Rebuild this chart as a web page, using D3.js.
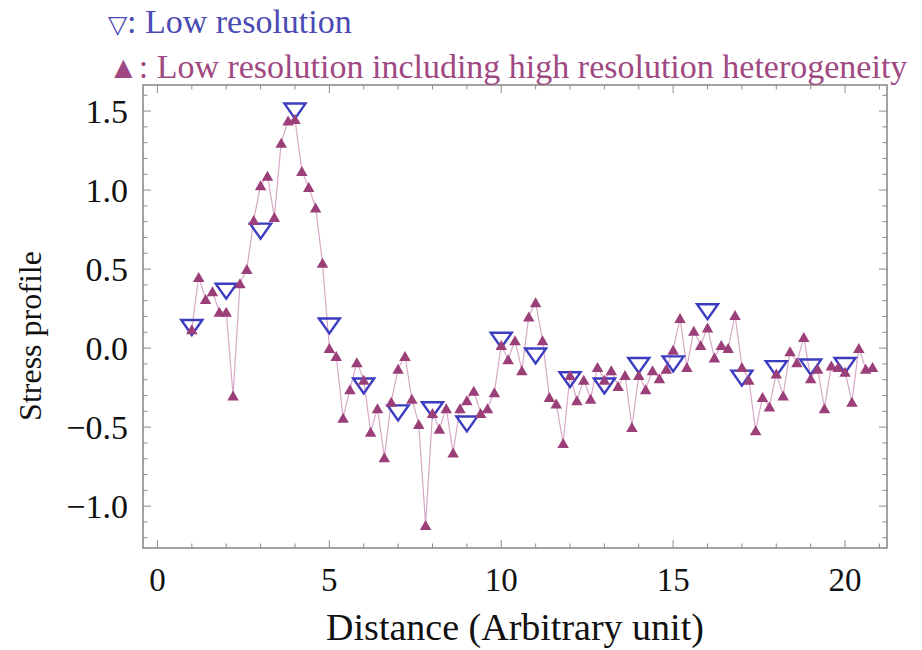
<!DOCTYPE html>
<html><head><meta charset="utf-8">
<script src="https://cdn.jsdelivr.net/npm/d3@7"></script>
<style>
html,body{margin:0;padding:0;background:#fff;}
svg text{font-family:"Liberation Serif","Times New Roman",serif;}
</style></head>
<body><svg id="c" width="922" height="650"></svg>
<script>
// Low resolution series (x = 1..20)
const lowX = [1,2,3,4,5,6,7,8,9,10,11,12,13,14,15,16,17,18,19,20];
const lowY = [0.13,0.36,0.74,1.50,0.14,-0.24,-0.41,-0.39,-0.48,0.05,-0.05,-0.20,-0.24,-0.11,-0.10,0.23,-0.19,-0.13,-0.12,-0.11];
// Low resolution including high resolution heterogeneity
const highX = [1.0,1.2,1.4,1.6,1.8,2.0,2.2,2.4,2.6,2.8,3.0,3.2,3.4,3.6,3.8,4.0,4.2,4.4,4.6,4.8,
  5.0,5.2,5.4,5.6,5.8,6.0,6.2,6.4,6.6,6.8,7.0,7.2,7.4,7.6,7.8,8.0,8.2,8.4,8.6,8.8,
  9.0,9.2,9.4,9.6,9.8,10.0,10.2,10.4,10.6,10.8,11.0,11.2,11.4,11.6,11.8,12.0,12.2,12.4,12.6,12.8,
  13.0,13.2,13.4,13.6,13.8,14.0,14.2,14.4,14.6,14.8,15.0,15.2,15.4,15.6,15.8,16.0,16.2,16.4,16.6,16.8,
  17.0,17.2,17.4,17.6,17.8,18.0,18.2,18.4,18.6,18.8,19.0,19.2,19.4,19.6,19.8,20.0,20.2,20.4,20.6,20.8];
const highY = [0.12,0.45,0.31,0.36,0.23,0.23,-0.30,0.41,0.50,0.81,1.03,1.09,0.83,1.30,1.44,1.45,1.12,1.02,0.89,0.54,
  0.00,-0.05,-0.44,-0.26,-0.09,-0.20,-0.53,-0.38,-0.69,-0.34,-0.13,-0.05,-0.32,-0.48,-1.12,-0.41,-0.51,-0.38,-0.66,-0.38,
  -0.33,-0.27,-0.41,-0.38,-0.28,0.02,-0.07,0.05,-0.14,0.20,0.29,0.05,-0.31,-0.35,-0.60,-0.17,-0.33,-0.20,-0.32,-0.12,
  -0.20,-0.14,-0.24,-0.17,-0.50,-0.17,-0.26,-0.14,-0.19,-0.13,-0.01,0.19,-0.12,0.11,0.02,0.13,-0.06,0.02,0.00,0.21,
  -0.12,-0.20,-0.52,-0.31,-0.37,-0.16,-0.30,-0.02,-0.09,0.07,-0.19,-0.13,-0.38,-0.11,-0.12,-0.15,-0.34,0.00,-0.13,-0.12];
const xTickLabels = [0,5,10,15,20];
const yTickLabels = [-1.0,-0.5,0.0,0.5,1.0,1.5];
const legendSymbols = ["\u25BD","\u25B2"];
const legendLabels = [": Low resolution",": Low resolution including high resolution heterogeneity"];
const xTitle = "Distance (Arbitrary unit)";
const yTitle = "Stress profile";

const L=143,R=887,T=85,B=548;
const svg = d3.select("#c");
const x = d3.scaleLinear().domain([-0.42,21.22]).range([L,R]);
const y = d3.scaleLinear().domain([-1.265,1.665]).range([B,T]);
const frameCol = "#8c8c8c";

// frame
svg.append("rect").attr("x",L).attr("y",T).attr("width",R-L).attr("height",B-T)
  .attr("fill","none").attr("stroke",frameCol).attr("stroke-width",1.6);

// ticks
const xMinor = d3.range(0,22,1);
const yMinor = d3.range(-12,17,1).map(d=>d/10);
const g = svg.append("g").attr("stroke",frameCol).attr("stroke-width",1);
xMinor.forEach(v=>{
  const len = v%5===0 ? 8 : 4.5;
  const px = x(v);
  g.append("line").attr("x1",px).attr("x2",px).attr("y1",B).attr("y2",B-len);
  g.append("line").attr("x1",px).attr("x2",px).attr("y1",T).attr("y2",T+len);
});
yMinor.forEach(v=>{
  const major = Math.abs(Math.round(v*10))%5===0;
  const len = major ? 8 : 4.5;
  const py = y(v);
  g.append("line").attr("x1",L).attr("x2",L+len).attr("y1",py).attr("y2",py);
  g.append("line").attr("x1",R).attr("x2",R-len).attr("y1",py).attr("y2",py);
});

// tick labels
svg.append("g").selectAll("text").data(xTickLabels).join("text")
  .attr("x",d=>x(d)).attr("y",B+43).attr("text-anchor","middle")
  .attr("font-size",33).attr("fill","#111").text(d=>d);
svg.append("g").selectAll("text").data(yTickLabels).join("text")
  .attr("x",L-15).attr("y",d=>y(d)).attr("dy","0.35em").attr("text-anchor","end")
  .attr("font-size",34).attr("fill","#111").text(d=>d<0?"\u2212"+Math.abs(d).toFixed(1):d.toFixed(1));

// axis titles
svg.append("text").attr("x",(L+R)/2).attr("y",640).attr("text-anchor","middle")
  .attr("font-size",38).attr("fill","#111").text(xTitle);
svg.append("text").attr("transform",`translate(41,336) rotate(-90)`).attr("text-anchor","middle")
  .attr("font-size",32).attr("fill","#111").text(yTitle);

// line for high-res series
const pts = highX.map((d,i)=>[d,highY[i]]);
svg.append("path").datum(pts).attr("fill","none").attr("stroke","#d7a9c6").attr("stroke-width",1.2)
  .attr("d",d3.line().x(d=>x(d[0])).y(d=>y(d[1])));

// low-res markers (down triangles, open)
const lw=21,lh=15;
svg.append("g").selectAll("path").data(lowX.map((d,i)=>[d,lowY[i]])).join("path")
  .attr("d",d=>{const cx=x(d[0]),cy=y(d[1]);return `M${cx-lw/2},${cy-lh/2}L${cx+lw/2},${cy-lh/2}L${cx},${cy+lh/2}Z`;})
  .attr("fill","none").attr("stroke","#3c3cc0").attr("stroke-width",2.4).attr("stroke-linejoin","miter");

// high-res markers (filled up triangles)
const hw=11.5,hh=10;
svg.append("g").selectAll("path").data(pts).join("path")
  .attr("d",d=>{const cx=x(d[0]),cy=y(d[1]);return `M${cx-hw/2},${cy+hh/2}L${cx+hw/2},${cy+hh/2}L${cx},${cy-hh/2}Z`;})
  .attr("fill","#9b3f79");

// legend
const legCols = ["#4a4ab4","#a04882"];
const symSizes = [25,31];
[0,1].forEach(i=>{
  const t = svg.append("text").attr("x",108).attr("y",33+45*i).attr("font-size",34).attr("fill",legCols[i]);
  t.append("tspan").attr("font-size",symSizes[i]).text(legendSymbols[i]);
  t.append("tspan").text(legendLabels[i]);
});
</script></body></html>
